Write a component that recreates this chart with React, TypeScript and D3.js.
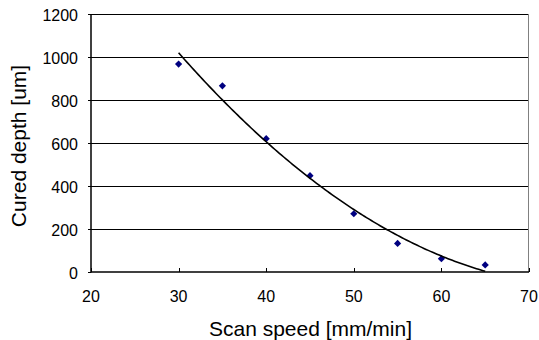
import React from "react";
import * as d3 from "d3";

const speeds = [30, 35, 40, 45, 50, 55, 60, 65];
const depths = [967, 866, 620, 448, 271, 133, 62, 33];
const xTicks = [20, 30, 40, 50, 60, 70];
const yTicks = [0, 200, 400, 600, 800, 1000, 1200];

// Least-squares quadratic trendline (like a spreadsheet polynomial trendline)
function quadFit(xs: number[], ys: number[]) {
  const n = xs.length;
  const mx = d3.mean(xs)!;
  const u = xs.map((x) => x - mx);
  const Su2 = d3.sum(u, (v) => v * v);
  const Su4 = d3.sum(u, (v) => v ** 4);
  const Sy = d3.sum(ys);
  const Suy = d3.sum(u, (v, i) => v * ys[i]);
  const Su2y = d3.sum(u, (v, i) => v * v * ys[i]);
  const b = Suy / Su2;
  const c = (Su2y - (Su2 * Sy) / n) / (Su4 - (Su2 * Su2) / n);
  const a = (Sy - c * Su2) / n;
  return (x: number) => a + b * (x - mx) + c * (x - mx) ** 2;
}

export default function App() {
  const W = 539, H = 340;
  const left = 91, right = 529, top = 14, bottom = 272;
  const x = d3.scaleLinear().domain([20, 70]).range([left, right]);
  const y = d3.scaleLinear().domain([0, 1200]).range([bottom, top]);
  const f = quadFit(speeds, depths);
  const xs = d3.range(0, 141).map((i) => 30 + (i * 35) / 140);
  const trend = d3
    .line<number>()
    .x((v) => x(v))
    .y((v) => y(Math.max(0, f(v))))(xs);
  const font = "'Liberation Sans', Arial, sans-serif";
  const r = 3.6;
  const diamond = `M0,${-r}L${r},0L0,${r}L${-r},0Z`;

  return (
    <svg width={W} height={H} style={{ position: "absolute", left: 0, top: 0, background: "#fff" }}>
      <rect x={0} y={0} width={W} height={H} fill="#fff" />
      {yTicks.filter((t) => t > 0).map((t) => (
        <line key={t} x1={left} x2={right} y1={Math.round(y(t)) + 0.5} y2={Math.round(y(t)) + 0.5} stroke="#000" strokeWidth={1} />
      ))}
      <line x1={right - 0.5} x2={right - 0.5} y1={top} y2={bottom} stroke="#808080" strokeWidth={1} />
      <line x1={left} x2={left} y1={top} y2={bottom + 0.5} stroke="#000" strokeWidth={1.5} />
      <line x1={left} x2={right} y1={bottom} y2={bottom} stroke="#000" strokeWidth={1.5} />
      {yTicks.map((t) => (
        <line key={"yt" + t} x1={left - 3} x2={left} y1={Math.round(y(t)) + 0.5} y2={Math.round(y(t)) + 0.5} stroke="#000" />
      ))}
      {xTicks.map((t) => (
        <line key={"xt" + t} x1={Math.round(x(t)) + 0.5} x2={Math.round(x(t)) + 0.5} y1={bottom - 4} y2={bottom} stroke="#000" />
      ))}
      {yTicks.map((t) => (
        <text key={"yl" + t} x={78} y={y(t) + 1} dy="0.35em" textAnchor="end" fontFamily={font} fontSize={16} fill="#000">
          {t}
        </text>
      ))}
      {xTicks.map((t) => (
        <text key={"xl" + t} x={x(t)} y={296} dy="0.35em" textAnchor="middle" fontFamily={font} fontSize={16} fill="#000">
          {t}
        </text>
      ))}
      {speeds.map((s, i) => (
        <path key={"p" + i} d={diamond} transform={`translate(${x(s)},${y(depths[i])})`} fill="#000080" />
      ))}
      <path d={trend!} fill="none" stroke="#000" strokeWidth={1.6} />
      <text x={310.5} y={336} textAnchor="middle" fontFamily={font} fontSize={21} fill="#000">
        Scan speed [mm/min]
      </text>
      <text transform={`translate(25.5,146) rotate(-90)`} textAnchor="middle" fontFamily={font} fontSize={21} fill="#000">
        Cured depth [um]
      </text>
    </svg>
  );
}
